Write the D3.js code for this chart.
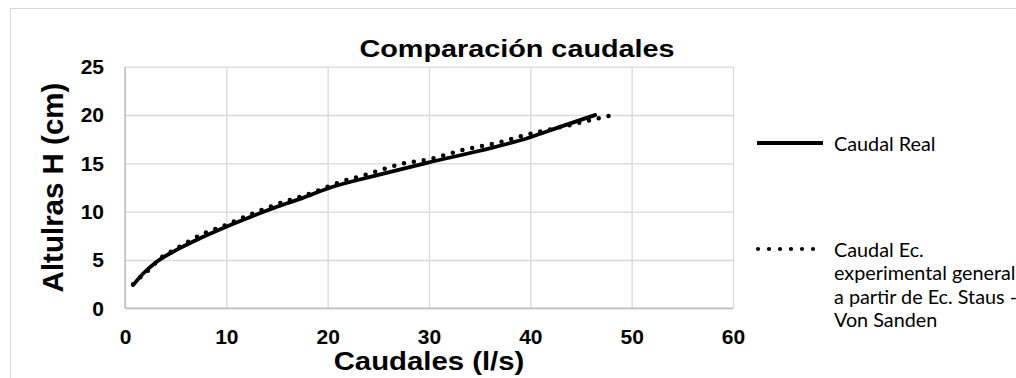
<!DOCTYPE html>
<html>
<head>
<meta charset="utf-8">
<script src="https://cdn.jsdelivr.net/npm/d3@7"></script>
<style>
  body { margin: 0; background: #fff; }
  svg { display: block; }
</style>
</head>
<body>
<svg id="chart" width="1016" height="378"></svg>
<script>
var xTicks = [0, 10, 20, 30, 40, 50, 60];
var yTicks = [0, 5, 10, 15, 20, 25];

// Caudal Real (l/s) vs altura (cm)
var realQ = [0.8, 1.8, 3.1, 5.0, 7.5, 10, 12.5, 15, 17.5, 20, 25, 30, 35, 40, 43, 46.4];
var realH = [2.4, 3.6, 4.8, 6.0, 7.3, 8.45, 9.5, 10.5, 11.4, 12.4, 13.8, 15.1, 16.3, 17.7, 18.8, 20.0];

// Caudal Ec. experimental
var ecQ = [0.8, 1.6, 2.5, 3.3, 5.1, 7.9, 9.9, 12.8, 14.8, 18.75, 21.05, 24.0, 27.1, 30.3, 33.4, 36.6, 39.8, 43.9, 46.05, 48.2];
var ecH = [2.5, 3.3, 4.1, 5.0, 6.2, 7.8, 8.6, 9.9, 10.7, 12.06, 13.0, 13.9, 14.9, 15.5, 16.4, 17.1, 18.0, 18.96, 19.5, 20.0];

var seriesNames = ['Caudal Real', 'Caudal Ec.\nexperimental general\na partir de Ec. Staus -\nVon Sanden'];

var svg = d3.select('#chart');

// outer chart frame
svg.append('rect')
  .attr('x', 10.5).attr('y', 8.5)
  .attr('width', 1020).attr('height', 380)
  .attr('fill', 'none')
  .attr('stroke', '#d9d9d9');

var plotL = 125, plotR = 733, plotT = 66.7, plotB = 308.3;

var x = d3.scaleLinear().domain([0, 60]).range([plotL, plotR]);
var y = d3.scaleLinear().domain([0, 25]).range([plotB, plotT]);

// gridlines
var gx = svg.append('g')
  .attr('transform', 'translate(0,' + plotB + ')')
  .call(d3.axisBottom(x).tickValues(xTicks).tickSize(-(plotB - plotT)).tickFormat(''));
gx.select('.domain').remove();
gx.selectAll('line').attr('stroke', '#d9d9d9').attr('stroke-width', 1.3);

var gy = svg.append('g')
  .attr('transform', 'translate(' + plotL + ',0)')
  .call(d3.axisLeft(y).tickValues(yTicks).tickSize(-(plotR - plotL)).tickFormat(''));
gy.select('.domain').remove();
gy.selectAll('line').attr('stroke', '#d9d9d9').attr('stroke-width', 1.3);

// axis lines
svg.append('line')
  .attr('x1', plotL).attr('x2', plotR).attr('y1', plotB).attr('y2', plotB)
  .attr('stroke', '#bfbfbf').attr('stroke-width', 1.5);
svg.append('line')
  .attr('x1', plotL).attr('x2', plotL).attr('y1', plotT).attr('y2', plotB)
  .attr('stroke', '#bfbfbf').attr('stroke-width', 1.5);

// tick labels
var ax = svg.append('g')
  .attr('transform', 'translate(0,' + plotB + ')')
  .call(d3.axisBottom(x).tickValues(xTicks).tickSize(0).tickPadding(21));
ax.select('.domain').remove();
ax.selectAll('text')
  .attr('font-family', 'Liberation Sans, Arial, sans-serif')
  .attr('font-weight', 'bold')
  .attr('font-size', 21)
  .attr('fill', '#000');

var ay = svg.append('g')
  .attr('transform', 'translate(' + (plotL - 21) + ',0)')
  .call(d3.axisLeft(y).tickValues(yTicks).tickSize(0).tickPadding(0));
ay.select('.domain').remove();
ay.selectAll('text')
  .attr('font-family', 'Liberation Sans, Arial, sans-serif')
  .attr('font-weight', 'bold')
  .attr('font-size', 21)
  .attr('fill', '#000');

// lines
var realData = realQ.map(function(q, i) { return [q, realH[i]]; });
var ecData = ecQ.map(function(q, i) { return [q, ecH[i]]; });

var line = d3.line()
  .x(function(d) { return x(d[0]); })
  .y(function(d) { return y(d[1]); })
  .curve(d3.curveMonotoneX);

svg.append('path')
  .datum(ecData)
  .attr('d', line)
  .attr('fill', 'none')
  .attr('stroke', '#000')
  .attr('stroke-width', 4.5)
  .attr('stroke-linecap', 'round')
  .attr('stroke-dasharray', '0 10');

svg.append('path')
  .datum(realData)
  .attr('d', line)
  .attr('fill', 'none')
  .attr('stroke', '#000')
  .attr('stroke-width', 3.8)
  .attr('stroke-linecap', 'round');

// title
svg.append('text')
  .attr('transform', 'translate(517,57) scale(1.2,1)')
  .attr('text-anchor', 'middle')
  .attr('font-family', 'Liberation Sans, Arial, sans-serif')
  .attr('font-weight', 'bold')
  .attr('font-size', 24)
  .text('Comparación caudales');

// axis titles
svg.append('text')
  .attr('transform', 'translate(' + ((plotL + plotR) / 2) + ',370) scale(1.15,1)')
  .attr('text-anchor', 'middle')
  .attr('font-family', 'Liberation Sans, Arial, sans-serif')
  .attr('font-weight', 'bold')
  .attr('font-size', 25.5)
  .text('Caudales (l/s)');

svg.append('text')
  .attr('transform', 'translate(63,' + ((83 + 292) / 2) + ') rotate(-90)')
  .attr('text-anchor', 'middle')
  .attr('font-family', 'Liberation Sans, Arial, sans-serif')
  .attr('font-weight', 'bold')
  .attr('font-size', 29.5)
  .text('Altulras H (cm)');

// legend
var legY = [143, 249];
var lg = svg.append('g');
lg.append('line')
  .attr('x1', 757).attr('x2', 823).attr('y1', legY[0]).attr('y2', legY[0])
  .attr('stroke', '#000').attr('stroke-width', 3.8);
lg.append('line')
  .attr('x1', 758).attr('x2', 824).attr('y1', legY[1]).attr('y2', legY[1])
  .attr('stroke', '#000').attr('stroke-width', 4.2)
  .attr('stroke-linecap', 'round')
  .attr('stroke-dasharray', '0 11');

seriesNames.forEach(function(name, i) {
  var t = lg.append('text')
    .attr('x', 834)
    .attr('y', legY[i] + 8)
    .attr('font-family', 'Lato, Calibri, sans-serif')
    .attr('font-size', 19.8)
    .attr('fill', '#000');
  name.split('\n').forEach(function(part, j) {
    t.append('tspan')
      .attr('x', 834)
      .attr('dy', j === 0 ? 0 : 23.3)
      .text(part);
  });
});
</script>
</body>
</html>
